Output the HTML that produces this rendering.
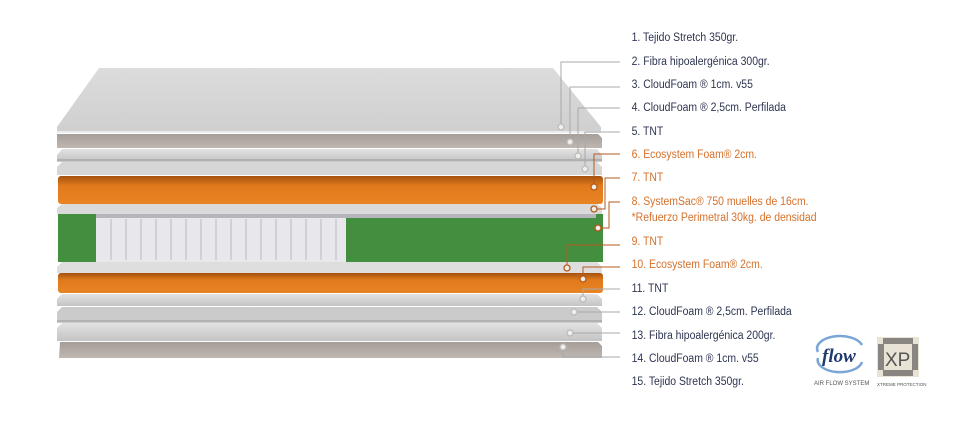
<!DOCTYPE html>
<html><head><meta charset="utf-8"><style>
html,body{margin:0;padding:0;background:#fff;}
svg{display:block}
text{font-family:"Liberation Sans Narrow","Liberation Sans",sans-serif;font-size:12px;fill:#2d3550}
.o{fill:#d4712c}
</style></head><body>
<svg width="957" height="442" viewBox="0 0 957 442" xmlns="http://www.w3.org/2000/svg">
<defs>
<linearGradient id="gt" x1="0" y1="0" x2="0" y2="1"><stop offset="0" stop-color="#dcdcdc"/><stop offset="1" stop-color="#cfcfcf"/></linearGradient>
<linearGradient id="go" x1="0" y1="0" x2="0" y2="1"><stop offset="0" stop-color="#a5520f"/><stop offset="0.35" stop-color="#e07a1c"/><stop offset="1" stop-color="#e98424"/></linearGradient>
<linearGradient id="gw" x1="0" y1="0" x2="0" y2="1"><stop offset="0" stop-color="#e2e2e2"/><stop offset="1" stop-color="#c4c4c4"/></linearGradient>
<linearGradient id="gb" x1="0" y1="0" x2="0" y2="1"><stop offset="0" stop-color="#a59d98"/><stop offset="1" stop-color="#bfb7b1"/></linearGradient>
</defs>
<!-- top layer -->
<polygon points="99,68 553,68 601,127 601,133 57,133 57,127" fill="url(#gt)"/>
<rect x="57" y="131" width="544" height="2" fill="#ececec"/>
<!-- taupe -->
<polygon points="57,134 598,134 602,138 602,148 57,148" fill="url(#gb)"/>
<!-- wavy whites -->
<polygon points="62,149 597,149 602,155 602,161 57,161 57,155" fill="url(#gw)"/>
<rect x="57" y="159" width="545" height="3" fill="#9a9a9a" opacity="0.5"/>
<polygon points="62,162 597,162 602,167 602,175 57,175 57,167" fill="#d6d6d6"/>
<!-- orange -->
<rect x="58" y="176" width="545" height="28" rx="3" fill="url(#go)"/>
<!-- white -->
<polygon points="62,204 597,204 602,208 602,214 57,214 57,208" fill="#dadada"/>
<!-- spring unit -->
<rect x="58" y="214" width="545" height="48" fill="#438f3f"/>
<rect x="96" y="217" width="250" height="45" fill="#e8e8ec"/>
<g stroke="#b8b8c2" stroke-width="1">
<line x1="111" y1="219" x2="111" y2="260"/><line x1="126" y1="219" x2="126" y2="260"/><line x1="141" y1="219" x2="141" y2="260"/><line x1="156" y1="219" x2="156" y2="260"/><line x1="171" y1="219" x2="171" y2="260"/><line x1="186" y1="219" x2="186" y2="260"/><line x1="201" y1="219" x2="201" y2="260"/><line x1="216" y1="219" x2="216" y2="260"/><line x1="231" y1="219" x2="231" y2="260"/><line x1="246" y1="219" x2="246" y2="260"/><line x1="261" y1="219" x2="261" y2="260"/><line x1="276" y1="219" x2="276" y2="260"/><line x1="291" y1="219" x2="291" y2="260"/><line x1="306" y1="219" x2="306" y2="260"/><line x1="321" y1="219" x2="321" y2="260"/><line x1="336" y1="219" x2="336" y2="260"/>
</g>
<rect x="96" y="214" width="500" height="4" fill="#b5b5bb"/>
<!-- white -->
<polygon points="62,262 597,262 602,267 602,273 57,273 57,267" fill="#dedede"/>
<!-- orange 2 -->
<rect x="58" y="273" width="545" height="20" rx="3" fill="url(#go)"/>
<!-- whites below -->
<polygon points="62,294 597,294 602,299 602,306 57,306 57,299" fill="url(#gw)"/>
<polygon points="62,307 597,307 602,312 602,322 57,322 57,312" fill="#cbcbcb"/>
<rect x="57" y="320" width="545" height="3" fill="#9a9a9a" opacity="0.5"/>
<polygon points="62,323 597,323 602,328 602,341 57,341 57,328" fill="url(#gw)"/>
<!-- taupe bottom -->
<polygon points="60,342 598,342 602,346 602,358 59,358" fill="url(#gb)"/>

<!-- leader lines -->
<g fill="none" stroke-width="1">
<path d="M561,127 V62 H620" stroke="#a9a9a9"/>
<path d="M570,142 V87 H620" stroke="#a9a9a9"/>
<path d="M578,156 V108 H620" stroke="#a9a9a9"/>
<path d="M585,169 V132 H620" stroke="#a9a9a9"/>
<path d="M594,187 V154 H620" stroke="#b55a1c"/>
<path d="M594,209 H605 V178 H620" stroke="#b55a1c"/>
<path d="M598,228 H609 V202 H620" stroke="#b55a1c"/>
<path d="M567,268 V245 H620" stroke="#b55a1c"/>
<path d="M583,279 V267 H620" stroke="#b55a1c"/>
<path d="M583,299 V289 H620" stroke="#a9a9a9"/>
<path d="M574,312 H620" stroke="#a9a9a9"/>
<path d="M570,333 H620" stroke="#a9a9a9"/>
<path d="M563,347 V357 H620" stroke="#a9a9a9"/>
</g>
<g stroke-width="1.3">
<circle cx="561" cy="127" r="3" fill="#f3efe8" stroke="#bbb"/>
<circle cx="570" cy="142" r="3" fill="#f3efe8" stroke="#bbb"/>
<circle cx="578" cy="156" r="3" fill="#f3efe8" stroke="#bbb"/>
<circle cx="585" cy="169" r="3" fill="#f3efe8" stroke="#bbb"/>
<circle cx="594" cy="187" r="3" fill="#f3efe8" stroke="#b55a1c"/>
<circle cx="594" cy="209" r="3" fill="#f3efe8" stroke="#b55a1c"/>
<circle cx="598" cy="228" r="3" fill="#f3efe8" stroke="#b55a1c"/>
<circle cx="567" cy="268" r="3" fill="#f3efe8" stroke="#b55a1c"/>
<circle cx="583" cy="279" r="3" fill="#f3efe8" stroke="#b55a1c"/>
<circle cx="583" cy="299" r="3" fill="#f3efe8" stroke="#bbb"/>
<circle cx="574" cy="312" r="3" fill="#f3efe8" stroke="#bbb"/>
<circle cx="570" cy="333" r="3" fill="#f3efe8" stroke="#bbb"/>
<circle cx="563" cy="347" r="3" fill="#f3efe8" stroke="#bbb"/>
</g>

<!-- labels -->
<g transform="scale(0.87,1)">
<text x="726" y="41">1. Tejido Stretch 350gr.</text>
<text x="726" y="65">2. Fibra hipoalergénica 300gr.</text>
<text x="726" y="88">3.  CloudFoam ® 1cm. v55</text>
<text x="726" y="111">4. CloudFoam ® 2,5cm. Perfilada</text>
<text x="726" y="135">5. TNT</text>
<text x="726" y="158" class="o">6. Ecosystem Foam® 2cm.</text>
<text x="726" y="181" class="o">7. TNT</text>
<text x="726" y="205" class="o">8. SystemSac® 750 muelles de 16cm.</text>
<text x="726" y="221" class="o">*Refuerzo Perimetral 30kg. de densidad</text>
<text x="726" y="245" class="o">9. TNT</text>
<text x="726" y="268" class="o">10. Ecosystem Foam® 2cm.</text>
<text x="726" y="292">11. TNT</text>
<text x="726" y="315">12. CloudFoam ® 2,5cm. Perfilada</text>
<text x="726" y="339">13. Fibra hipoalergénica 200gr.</text>
<text x="726" y="362">14. CloudFoam ®  1cm. v55</text>
<text x="726" y="385">15. Tejido Stretch 350gr.</text>
</g>

<!-- flow logo -->
<path d="M818,352 A22,12 0 0 1 862,345" fill="none" stroke="#7aa6d6" stroke-width="2.5"/>
<path d="M818,358 A22,12 0 0 0 862,362" fill="none" stroke="#7aa6d6" stroke-width="2.5"/>
<text x="822" y="362" style="font-family:'Liberation Serif',serif;font-style:italic;font-weight:bold;font-size:19px;fill:#1f3a6e">flow</text>
<text x="814" y="385" style="font-size:6px;fill:#555">AIR FLOW SYSTEM</text>
<!-- XP logo -->
<rect x="877" y="337" width="42" height="40" fill="#e9e3d5"/>
<rect x="883" y="338" width="30" height="6" fill="#8a8580"/>
<rect x="883" y="370" width="30" height="6" fill="#8a8580"/>
<rect x="878" y="344" width="6" height="26" fill="#8a8580"/>
<rect x="912" y="344" width="6" height="26" fill="#8a8580"/>
<text x="885" y="366" style="font-size:19px;fill:#555">XP</text>
<text x="877" y="386" style="font-size:4.5px;fill:#555">XTREME  PROTECTION</text>
</svg>
</body></html>
